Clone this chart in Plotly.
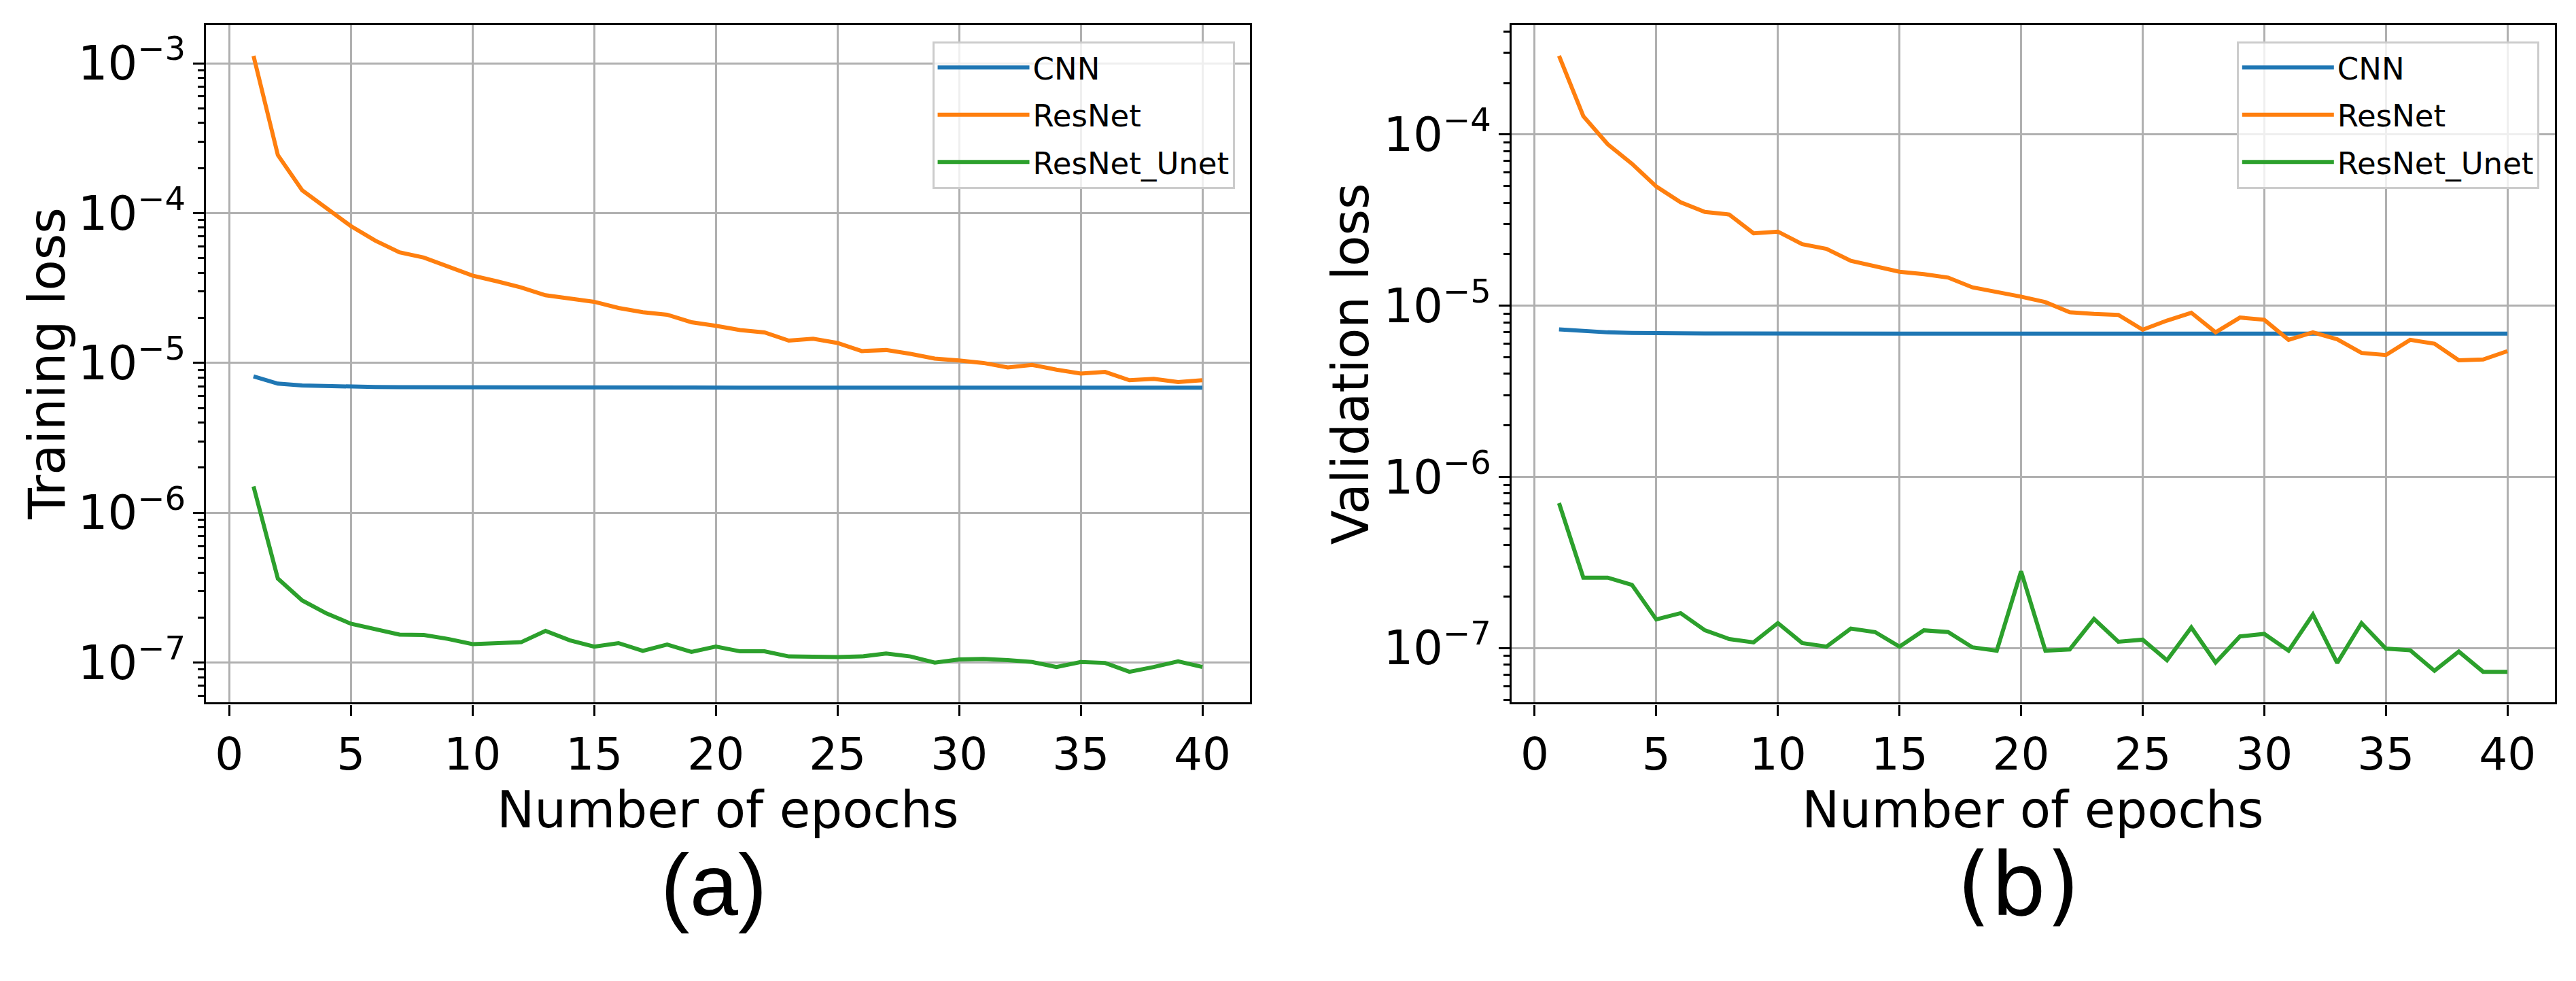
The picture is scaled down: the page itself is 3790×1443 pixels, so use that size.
"""
Training / validation loss curves of the three models (CNN, ResNet, ResNet_Unet)
drawn as two log-scale panels side by side.
"""

import math
import plotly.graph_objects as go

epochs = list(range(1, 41))

train_cnn = [
    8.14e-6, 7.28e-6, 7.08e-6, 7.00e-6, 6.94e-6, 6.91e-6, 6.89e-6, 6.88e-6, 6.87e-6, 6.86e-6,
    6.86e-6, 6.85e-6, 6.85e-6, 6.85e-6, 6.85e-6, 6.85e-6, 6.85e-6, 6.85e-6, 6.85e-6, 6.85e-6,
    6.85e-6, 6.85e-6, 6.85e-6, 6.85e-6, 6.85e-6, 6.85e-6, 6.85e-6, 6.85e-6, 6.85e-6, 6.85e-6,
    6.85e-6, 6.85e-6, 6.85e-6, 6.85e-6, 6.85e-6, 6.85e-6, 6.85e-6, 6.85e-6, 6.85e-6, 6.85e-6,
]
train_resnet = [
    1.12e-3, 2.44e-4, 1.42e-4, 1.07e-4, 8.20e-5, 6.56e-5, 5.47e-5, 5.05e-5, 4.38e-5, 3.83e-5,
    3.51e-5, 3.19e-5, 2.83e-5, 2.68e-5, 2.56e-5, 2.33e-5, 2.18e-5, 2.10e-5, 1.87e-5, 1.77e-5,
    1.66e-5, 1.60e-5, 1.41e-5, 1.45e-5, 1.36e-5, 1.20e-5, 1.22e-5, 1.15e-5, 1.07e-5, 1.04e-5,
    1.00e-5, 9.33e-6, 9.71e-6, 9.02e-6, 8.49e-6, 8.71e-6, 7.67e-6, 7.83e-6, 7.46e-6, 7.67e-6,
]
train_unet = [
    1.50e-6, 3.64e-7, 2.60e-7, 2.13e-7, 1.82e-7, 1.68e-7, 1.54e-7, 1.53e-7, 1.44e-7, 1.33e-7,
    1.36e-7, 1.37e-7, 1.63e-7, 1.41e-7, 1.28e-7, 1.35e-7, 1.20e-7, 1.32e-7, 1.18e-7, 1.28e-7,
    1.19e-7, 1.19e-7, 1.10e-7, 1.09e-7, 1.09e-7, 1.10e-7, 1.15e-7, 1.10e-7, 1.00e-7, 1.05e-7,
    1.06e-7, 1.04e-7, 1.01e-7, 9.35e-8, 1.01e-7, 9.96e-8, 8.69e-8, 9.35e-8, 1.02e-7, 9.35e-8,
]

val_cnn = [
    7.28e-6, 7.11e-6, 6.99e-6, 6.94e-6, 6.90e-6, 6.89e-6, 6.88e-6, 6.88e-6, 6.87e-6, 6.87e-6,
    6.87e-6, 6.87e-6, 6.87e-6, 6.87e-6, 6.87e-6, 6.87e-6, 6.87e-6, 6.87e-6, 6.87e-6, 6.87e-6,
    6.87e-6, 6.87e-6, 6.87e-6, 6.87e-6, 6.87e-6, 6.87e-6, 6.87e-6, 6.87e-6, 6.87e-6, 6.87e-6,
    6.87e-6, 6.87e-6, 6.87e-6, 6.87e-6, 6.87e-6, 6.87e-6, 6.87e-6, 6.87e-6, 6.87e-6, 6.87e-6,
]
val_resnet = [
    2.88e-4, 1.28e-4, 8.79e-5, 6.75e-5, 4.97e-5, 4.02e-5, 3.53e-5, 3.41e-5, 2.65e-5, 2.71e-5,
    2.29e-5, 2.15e-5, 1.83e-5, 1.71e-5, 1.58e-5, 1.53e-5, 1.46e-5, 1.28e-5, 1.21e-5, 1.13e-5,
    1.05e-5, 9.16e-6, 8.95e-6, 8.84e-6, 7.24e-6, 8.19e-6, 9.10e-6, 6.99e-6, 8.53e-6, 8.28e-6,
    6.32e-6, 6.99e-6, 6.37e-6, 5.30e-6, 5.15e-6, 6.32e-6, 6.00e-6, 4.80e-6, 4.85e-6, 5.43e-6,
]
val_unet = [
    7.03e-7, 2.58e-7, 2.58e-7, 2.34e-7, 1.47e-7, 1.60e-7, 1.27e-7, 1.13e-7, 1.08e-7, 1.40e-7,
    1.07e-7, 1.02e-7, 1.30e-7, 1.24e-7, 1.02e-7, 1.27e-7, 1.24e-7, 1.01e-7, 9.66e-8, 2.81e-7,
    9.66e-8, 9.82e-8, 1.48e-7, 1.09e-7, 1.12e-7, 8.49e-8, 1.32e-7, 8.24e-8, 1.17e-7, 1.21e-7,
    9.66e-8, 1.57e-7, 8.19e-8, 1.40e-7, 9.94e-8, 9.71e-8, 7.37e-8, 9.54e-8, 7.27e-8, 7.27e-8,
]

model_names = ["CNN", "ResNet", "ResNet_Unet"]
colors = ["#1f77b4", "#ff7f0e", "#2ca02c"]

FONT = "DejaVu Sans"


def padded_range(values, log=False, margin=0.05):
    """Axis limits with 5% margins, like matplotlib's autoscale"""
    if log:
        values = [math.log10(v) for v in values]
    lo, hi = min(values), max(values)
    pad = (hi - lo) * margin
    return [lo - pad, hi + pad]


fig = go.Figure()

panels = [
    ("x", "y", "legend", [train_cnn, train_resnet, train_unet]),
    ("x2", "y2", "legend2", [val_cnn, val_resnet, val_unet]),
]
for xref, yref, legend_name, series in panels:
    for name, color, values in zip(model_names, colors, series):
        fig.add_trace(go.Scatter(
            x=epochs,
            y=values,
            mode="lines",
            name=name,
            line=dict(color=color, width=6),
            xaxis=xref,
            yaxis=yref,
            legend=legend_name,
            legendgroup=legend_name + name,
        ))

x_axis = dict(
    range=padded_range(epochs),
    tick0=0,
    dtick=5,
    ticks="outside",
    ticklen=16,
    tickwidth=3.3,
    tickcolor="black",
    showline=True,
    linecolor="black",
    linewidth=3.3,
    mirror=True,
    showgrid=True,
    gridcolor="#b0b0b0",
    gridwidth=3,
    zeroline=False,
    tickfont=dict(family=FONT, size=66, color="black"),
)

y_axis = dict(
    type="log",
    dtick=1,
    exponentformat="power",
    ticks="outside",
    ticklen=16,
    tickwidth=3.3,
    tickcolor="black",
    minor=dict(ticks="outside", ticklen=9, tickwidth=2.5, tickcolor="black", dtick="D1", showgrid=False),
    showline=True,
    linecolor="black",
    linewidth=3.3,
    mirror=True,
    showgrid=True,
    gridcolor="#b0b0b0",
    gridwidth=3,
    zeroline=False,
    tickfont=dict(family=FONT, size=55, color="black"),
)

legend_style = dict(
    xanchor="right",
    yanchor="top",
    y=0.958,
    font=dict(family=FONT, size=45, color="black"),
    bgcolor="rgba(255,255,255,0.8)",
    bordercolor="#cccccc",
    borderwidth=3,
    tracegroupgap=8,
    itemwidth=135,
)

# axis titles and panel letters placed as annotations (matplotlib-like spacing)
title_font = dict(family=FONT, size=74, color="black")
annotations = []
for xdom, ydom, ytitle, letter, letter_font, ytitle_x in [
    ("x domain", "y domain", "Training loss", "(a)", "Liberation Sans", 0.0183),
    ("x2 domain", "y2 domain", "Validation loss", "(b)", FONT, 0.5243),
]:
    annotations.append(dict(text="Number of epochs", xref=xdom, yref="paper", x=0.5, y=0.1432,
                            xanchor="center", yanchor="bottom", showarrow=False, font=title_font))
    annotations.append(dict(text=ytitle, xref="paper", yref=ydom, x=ytitle_x, y=0.5,
                            xanchor="center", yanchor="middle", textangle=-90,
                            showarrow=False, font=title_font))
    annotations.append(dict(text=letter, xref=xdom, yref="paper", x=0.486, y=0.098,
                            xanchor="center", yanchor="middle", showarrow=False,
                            font=dict(family=letter_font, size=128, color="black")))

fig.update_layout(
    width=3790,
    height=1443,
    autosize=False,
    margin=dict(l=0, r=0, t=0, b=0),
    paper_bgcolor="white",
    plot_bgcolor="white",
    font=dict(family=FONT, color="black"),
    showlegend=True,
    xaxis=dict(x_axis, domain=[0.0800, 0.4852], anchor="y"),
    xaxis2=dict(x_axis, domain=[0.5868, 0.9918], anchor="y2"),
    yaxis=dict(
        y_axis,
        domain=[0.2838, 0.9744],
        anchor="x",
        range=padded_range(train_cnn + train_resnet + train_unet, log=True),
    ),
    yaxis2=dict(
        y_axis,
        domain=[0.2838, 0.9744],
        anchor="x2",
        range=padded_range(val_cnn + val_resnet + val_unet, log=True),
    ),
    legend=dict(legend_style, x=0.4793),
    legend2=dict(legend_style, x=0.9857),
    annotations=annotations,
)

fig.write_html("out.html", config={"displayModeBar": False},
               post_script="document.body.style.margin='0';")
